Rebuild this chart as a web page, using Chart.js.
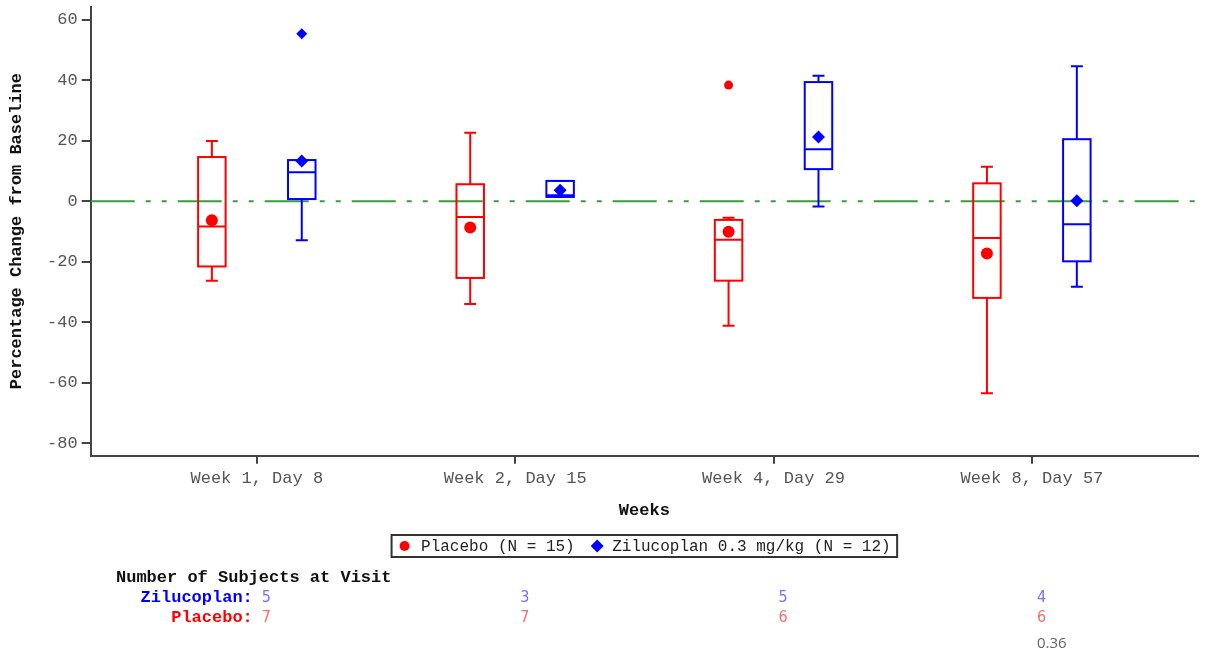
<!DOCTYPE html>
<html>
<head>
<meta charset="utf-8">
<title>Percentage Change from Baseline by Visit</title>
<script src="https://cdn.jsdelivr.net/npm/chart.js@4/dist/chart.umd.min.js"></script>
<style>
  html, body { margin: 0; padding: 0; background: #ffffff; }
  #wrap { width: 1208px; height: 661px; position: relative; }
</style>
</head>
<body>
<div id="wrap"><canvas id="chart" width="1208" height="661"></canvas></div>
<script>
// Visits on the x axis
const categories = ['Week 1, Day 8', 'Week 2, Day 15', 'Week 4, Day 29', 'Week 8, Day 57'];
const yTicks = [-80, -60, -40, -20, 0, 20, 40, 60];

// Placebo box statistics (% change from baseline)
const placeboLow    = [-26.3, -34.0, -41.2, -63.5];
const placeboQ1     = [-21.6, -25.4, -26.3, -32.0];
const placeboMedian = [-8.4, -5.2, -12.8, -12.2];
const placeboQ3     = [14.6, 5.6, -6.2, 5.9];
const placeboHigh   = [19.9, 22.6, -5.5, 11.4];
const placeboMean   = [-6.3, -8.7, -10.1, -17.3];
const placeboOutliers = [[], [], [38.4], []];

// Zilucoplan 0.3 mg/kg box statistics
const ziluLow    = [-12.9, 1.4, -1.8, -28.3];
const ziluQ1     = [0.7, 1.4, 10.6, -19.9];
const ziluMedian = [9.6, 2.0, 17.2, -7.6];
const ziluQ3     = [13.6, 6.7, 39.4, 20.5];
const ziluHigh   = [13.6, 6.7, 41.5, 44.6];
const ziluMean   = [13.3, 3.6, 21.2, 0.1];
const ziluOutliers = [[55.4], [], [], []];

// Subjects at each visit
const ziluCounts    = [5, 3, 5, 4];
const placeboCounts = [7, 7, 6, 6];
const footNote = '0.36';

const RED = '#ff0000';
const BLUE = '#0000ff';
const GREEN = '#3a9d3a';
const AXIS = '#444444';
const GROUP_OFFSET = 0.174;   // horizontal shift of each treatment group around its visit
const X_MIN = 0.357, X_MAX = 4.643;

const outlierPoints = (arr, shift) => {
  const pts = [];
  arr.forEach((vals, i) => vals.forEach(v => pts.push({ x: i + 1 + shift, y: v })));
  return pts;
};

const groups = [
  { color: RED,  shift: -GROUP_OFFSET, low: placeboLow, q1: placeboQ1, med: placeboMedian, q3: placeboQ3, high: placeboHigh },
  { color: BLUE, shift:  GROUP_OFFSET, low: ziluLow,    q1: ziluQ1,    med: ziluMedian,    q3: ziluQ3,    high: ziluHigh }
];

// Box-and-whisker outlines, drawn right after the reference line
const boxPlugin = {
  id: 'boxWhiskers',
  afterDatasetDraw(chart, args) {
    if (args.index !== 0) return;
    const { ctx, chartArea } = chart;
    const xs = chart.scales.x, ys = chart.scales.y;
    const halfW = 13.75, capHalf = 6;
    ctx.save();
    ctx.beginPath();
    ctx.rect(chartArea.left, chartArea.top, chartArea.right - chartArea.left, chartArea.bottom - chartArea.top);
    ctx.clip();
    ctx.lineWidth = 2;
    groups.forEach(g => {
      ctx.strokeStyle = g.color;
      categories.forEach((c, i) => {
        const cx = xs.getPixelForValue(i + 1 + g.shift);
        const yLo = ys.getPixelForValue(g.low[i]);
        const yQ1 = ys.getPixelForValue(g.q1[i]);
        const yMed = ys.getPixelForValue(g.med[i]);
        const yQ3 = ys.getPixelForValue(g.q3[i]);
        const yHi = ys.getPixelForValue(g.high[i]);
        ctx.beginPath();
        // whiskers
        ctx.moveTo(cx, yQ3); ctx.lineTo(cx, yHi);
        ctx.moveTo(cx - capHalf, yHi); ctx.lineTo(cx + capHalf, yHi);
        ctx.moveTo(cx, yQ1); ctx.lineTo(cx, yLo);
        ctx.moveTo(cx - capHalf, yLo); ctx.lineTo(cx + capHalf, yLo);
        // median
        ctx.moveTo(cx - halfW, yMed); ctx.lineTo(cx + halfW, yMed);
        ctx.stroke();
        ctx.strokeRect(cx - halfW, yQ3, 2 * halfW, yQ1 - yQ3);
      });
    });
    ctx.restore();
  }
};

// Framed legend and subject-count table under the axis
const bottomPlugin = {
  id: 'legendAndCounts',
  afterDraw(chart) {
    const { ctx, chartArea } = chart;
    const xs = chart.scales.x;
    ctx.save();

    // legend
    const t1 = 'Placebo (N = 15)', t2 = 'Zilucoplan 0.3 mg/kg (N = 12)';
    ctx.font = '16px "Liberation Mono", "Courier New", monospace';
    const w1 = ctx.measureText(t1).width, w2 = ctx.measureText(t2).width;
    const padL = 13, m2t = 16.5, gap = 22.5, padR = 6.5;
    const total = padL + m2t + w1 + gap + 15 + w2 + padR;
    const left = (chartArea.left + chartArea.right) / 2 - total / 2;
    const top = 535, h = 22, cy = top + h / 2;
    ctx.lineWidth = 2;
    ctx.strokeStyle = '#333333';
    ctx.strokeRect(left, top, total, h);
    let x = left + padL;
    ctx.fillStyle = RED;
    ctx.beginPath(); ctx.arc(x, cy, 5, 0, Math.PI * 2); ctx.fill();
    ctx.fillStyle = '#222222';
    ctx.textAlign = 'left';
    ctx.textBaseline = 'middle';
    ctx.fillText(t1, x + m2t, cy + 1);
    x = x + m2t + w1 + gap;
    ctx.fillStyle = BLUE;
    ctx.beginPath();
    ctx.moveTo(x, cy - 6.5); ctx.lineTo(x + 6.5, cy); ctx.lineTo(x, cy + 6.5); ctx.lineTo(x - 6.5, cy);
    ctx.closePath(); ctx.fill();
    ctx.fillStyle = '#222222';
    ctx.fillText(t2, x + 15, cy + 1);

    // subject counts
    ctx.font = 'bold 17px "Liberation Mono", "Courier New", monospace';
    ctx.fillStyle = '#111111';
    ctx.fillText('Number of Subjects at Visit', 116, 578);
    const labelRight = xs.getPixelForValue(1) - 4;
    ctx.textAlign = 'right';
    ctx.fillStyle = BLUE;
    ctx.fillText('Zilucoplan:', labelRight, 598);
    ctx.fillStyle = RED;
    ctx.fillText('Placebo:', labelRight, 618);

    ctx.textAlign = 'left';
    ctx.font = '16px "Liberation Sans Narrow", "DejaVu Sans Condensed", "Liberation Sans", sans-serif';
    categories.forEach((c, i) => {
      const vx = xs.getPixelForValue(i + 1) + 5;
      ctx.fillStyle = '#7070ff';
      ctx.fillText(String(ziluCounts[i]), vx, 598);
      ctx.fillStyle = '#ff6b6b';
      ctx.fillText(String(placeboCounts[i]), vx, 618);
    });

    ctx.font = '15px "Open Sans", "Noto Sans", sans-serif';
    ctx.fillStyle = '#666666';
    ctx.fillText(footNote, xs.getPixelForValue(categories.length) + 5, 644);
    ctx.restore();
  }
};

Chart.defaults.font.family = '"Liberation Mono", "Courier New", monospace';

new Chart(document.getElementById('chart'), {
  type: 'scatter',
  data: {
    datasets: [
      {
        type: 'line',
        label: 'Baseline',
        data: [{ x: X_MIN, y: 0 }, { x: X_MAX, y: 0 }],
        borderColor: GREEN,
        borderWidth: 2,
        borderDash: [44, 11, 5, 11, 5, 11],
        pointRadius: 0,
        order: 2
      },
      {
        label: 'Placebo (N = 15)',
        data: placeboMean.map((v, i) => ({ x: i + 1 - GROUP_OFFSET, y: v })),
        pointStyle: 'circle', pointRadius: 6,
        backgroundColor: RED, borderColor: RED, borderWidth: 0, order: 0
      },
      {
        label: 'Zilucoplan 0.3 mg/kg (N = 12)',
        data: ziluMean.map((v, i) => ({ x: i + 1 + GROUP_OFFSET, y: v })),
        pointStyle: 'rectRot', pointRadius: 6.5,
        backgroundColor: BLUE, borderColor: BLUE, borderWidth: 0, order: 0
      },
      {
        label: 'Placebo outliers',
        data: outlierPoints(placeboOutliers, -GROUP_OFFSET),
        pointStyle: 'circle', pointRadius: 4.5,
        backgroundColor: RED, borderColor: RED, borderWidth: 0, order: 0
      },
      {
        label: 'Zilucoplan outliers',
        data: outlierPoints(ziluOutliers, GROUP_OFFSET),
        pointStyle: 'rectRot', pointRadius: 5.5,
        backgroundColor: BLUE, borderColor: BLUE, borderWidth: 0, order: 0
      }
    ]
  },
  options: {
    responsive: false,
    animation: false,
    devicePixelRatio: 1,
    events: [],
    layout: { padding: { top: 5, right: 10, bottom: 0, left: 0 } },
    plugins: {
      legend: { display: false },
      tooltip: { enabled: false }
    },
    scales: {
      x: {
        type: 'linear',
        min: X_MIN, max: X_MAX,
        afterBuildTicks: s => { s.ticks = categories.map((c, i) => ({ value: i + 1 })); },
        ticks: {
          callback: (v, i) => categories[i],
          color: '#555555', font: { size: 17 }, padding: 5,
          maxRotation: 0, autoSkip: false
        },
        grid: { drawOnChartArea: false, drawTicks: true, tickLength: 8, color: AXIS, tickColor: AXIS, lineWidth: 2 },
        border: { display: true, color: AXIS, width: 2 },
        title: {
          display: true, text: 'Weeks', color: '#111111',
          font: { size: 17, weight: 'bold' },
          padding: { top: 0, bottom: 140 }
        },
        afterFit: s => { s.height = 205.3; s.paddingLeft = 0; s.paddingRight = 0; }
      },
      y: {
        type: 'linear',
        min: -84.2, max: 64.4,
        afterBuildTicks: s => { s.ticks = yTicks.map(v => ({ value: v })); },
        ticks: { color: '#555555', font: { size: 17 }, padding: 4 },
        grid: { drawOnChartArea: false, drawTicks: true, tickLength: 9, color: AXIS, tickColor: AXIS, lineWidth: 2 },
        border: { display: true, color: AXIS, width: 2 },
        title: {
          display: true, text: 'Percentage Change from Baseline', color: '#111111',
          font: { size: 17, weight: 'bold' },
          padding: { top: 7, bottom: 0 }
        },
        afterFit: s => { s.width = 90.7; s.paddingTop = 0; s.paddingBottom = 0; }
      }
    }
  },
  plugins: [boxPlugin, bottomPlugin]
});
</script>
</body>
</html>
